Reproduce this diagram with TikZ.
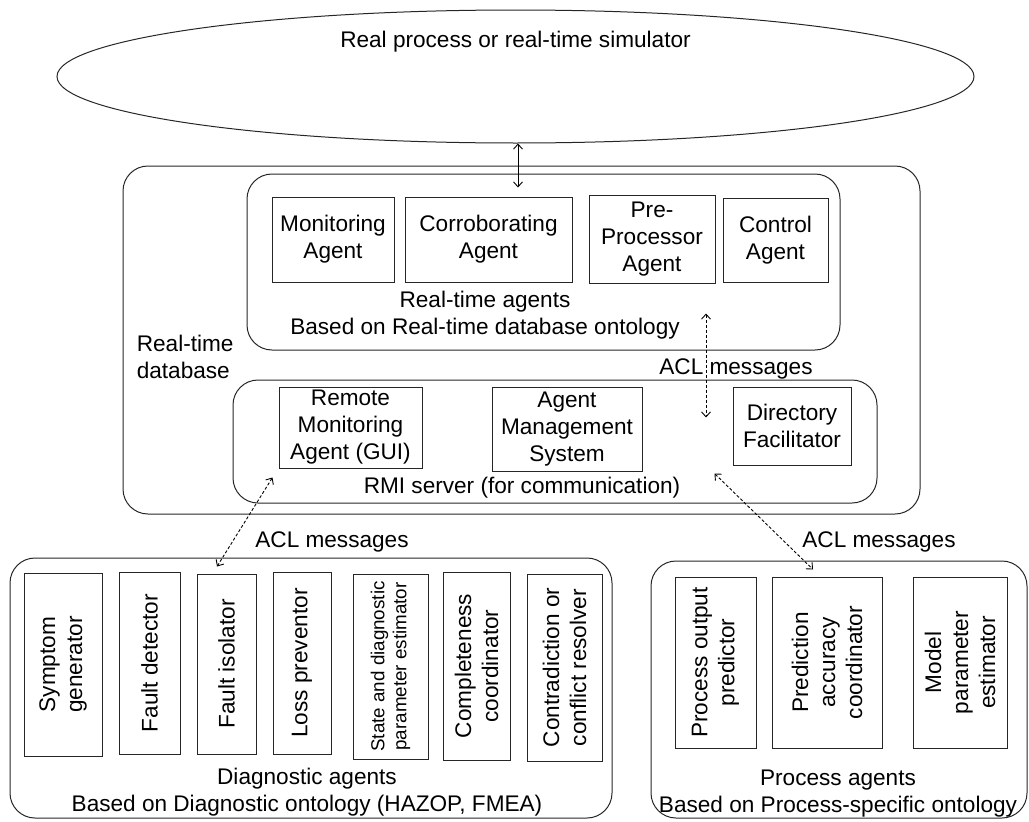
\documentclass[tikz,border=0pt]{standalone}
\usepackage{fontspec}
\setmainfont{Liberation Sans}
\usepackage{tikz}
\usetikzlibrary{calc,shapes.geometric,arrows.meta,positioning}

\newcommand{\bigfont}{\fontsize{22.6pt}{27pt}\selectfont}
\newcommand{\smallfont}{\fontsize{18.8pt}{22pt}\selectfont}

\begin{document}
\begin{tikzpicture}[x=1pt,y=-1pt,line width=1pt,>={Straight Barb[length=5pt,width=9pt]},
                    agent box/.style={draw=black!85,align=center,inner sep=0pt,font=\bigfont},
                    vagent box/.style={agent box,rotate=90},
                    group box/.style={draw=black!85,rounded corners=25pt,inner sep=0pt},
                    msg/.style={<->,dash pattern=on 3pt off 2pt,line width=0.9pt}]

 \useasboundingbox (0,0) rectangle (1029,822);

 % process
 \node[draw=black!85,ellipse,minimum width=917pt,minimum height=133pt,inner sep=0pt] (proc) at (515.5,76.5) {};
 \node[font=\bigfont] (proctxt) at (515.5,42) {Real process or real-time simulator};

 % real-time database
 \node[group box,minimum width=797pt,minimum height=348pt] (rtdb) at (521.5,340) {};
 \node[font=\bigfont,align=left,anchor=west] (dbtxt) at (133,356.5) {Real-time\\database};

 \node[group box,minimum width=593pt,minimum height=176pt] (rtbox) at (543.5,262) {};
 \node[agent box,minimum width=122pt,minimum height=85pt] (mon) at (333,239.5) {Monitoring\\Agent};
 \node[agent box,minimum width=167pt,minimum height=85pt] (cor) at (488.5,239.5) {Corroborating\\Agent};
 \node[agent box,minimum width=126pt,minimum height=88pt] (pre) at (652,239) {Pre-\\Processor\\Agent};
 \node[agent box,minimum width=105pt,minimum height=84pt] (ctl) at (775.5,240) {Control\\Agent};
 \node[font=\bigfont,align=center] (rttxt) at (485,315.5) {Real-time agents\\Based on Real-time database ontology};

 \node[font=\bigfont] (acl1) at (736,369) {ACL messages};

 \node[group box,minimum width=644pt,minimum height=123pt] (rmi) at (555,441.5) {};
 \node[agent box,minimum width=143pt,minimum height=81pt] (rem) at (350.5,427.5) {Remote\\Monitoring\\Agent (GUI)};
 \node[agent box,minimum width=150pt,minimum height=84pt] (ams) at (567,429) {Agent\\Management\\System};
 \node[agent box,minimum width=118pt,minimum height=78pt] (dir) at (792,426) {Directory\\Facilitator};
 \node[font=\bigfont] (rmitxt) at (522,488) {RMI server (for communication)};

 \node[font=\bigfont] (acl2) at (332,542) {ACL messages};
 \node[font=\bigfont] (acl3) at (879,542) {ACL messages};

 % diagnostic agents
 \node[group box,minimum width=602pt,minimum height=260pt] (diag) at (311,688) {};
 \node[vagent box,minimum width=183pt,minimum height=78pt] (sym) at (63,664.5) {Symptom\\generator};
 \node[vagent box,minimum width=182pt,minimum height=61pt] (fdet) at (149.5,663) {Fault detector};
 \node[vagent box,minimum width=180pt,minimum height=59pt] (fiso) at (226.5,664) {Fault isolator};
 \node[vagent box,minimum width=182pt,minimum height=58pt] (loss) at (302,663) {Loss preventor};
 \node[vagent box,font=\smallfont,minimum width=185pt,minimum height=75pt] (state) at (390.5,666.5) {State and diagnostic\\parameter estimator};
 \node[vagent box,minimum width=188pt,minimum height=67pt] (comp) at (476.5,666) {Completeness\\coordinator};
 \node[vagent box,minimum width=187pt,minimum height=75pt] (contra) at (564.5,667.5) {Contradiction or\\conflict resolver};
 \node[font=\bigfont,align=center] (diagtxt) at (307,792.5) {Diagnostic agents\\Based on Diagnostic ontology (HAZOP, FMEA)};

 % process agents
 \node[group box,minimum width=376pt,minimum height=257pt] (pbox) at (839,689.5) {};
 \node[vagent box,minimum width=171pt,minimum height=81pt] (pout) at (715.5,662.5) {Process output\\predictor};
 \node[vagent box,minimum width=171pt,minimum height=110pt] (pacc) at (827,662.5) {Prediction\\accuracy\\coordinator};
 \node[vagent box,minimum width=171pt,minimum height=94pt] (mpar) at (960,662.5) {Model\\parameter\\estimator};
 \node[font=\bigfont,align=center] (ptxt) at (838,793.5) {Process agents\\Based on Process-specific ontology};

 % message ends
 \coordinate (rtin) at ($(mon.north -| proc.south)+(2.5,-9)$);
 \coordinate (acltop) at ($(rtbox.south)+(162.5,-37)$);
 \coordinate (aclbot) at ($(rmi.north)+(151,38)$);
 \coordinate (remlow) at ($(rem.south west)+(-6,9)$);
 \coordinate (fisotop) at ($(fiso.east)+(-9.5,-7)$);
 \coordinate (dirlow) at ($(dir.south west)+(-18,8)$);
 \coordinate (pacctop) at ($(pacc.east)+(-14,-7)$);

 \draw[<->,line width=0.9pt] (proc.south -| rtin) -- (rtin);
 \draw[msg] (acltop) -- (aclbot);
 \draw[msg] (remlow) -- (fisotop);
 \draw[msg] (dirlow) -- (pacctop);

\end{tikzpicture}
\end{document}
